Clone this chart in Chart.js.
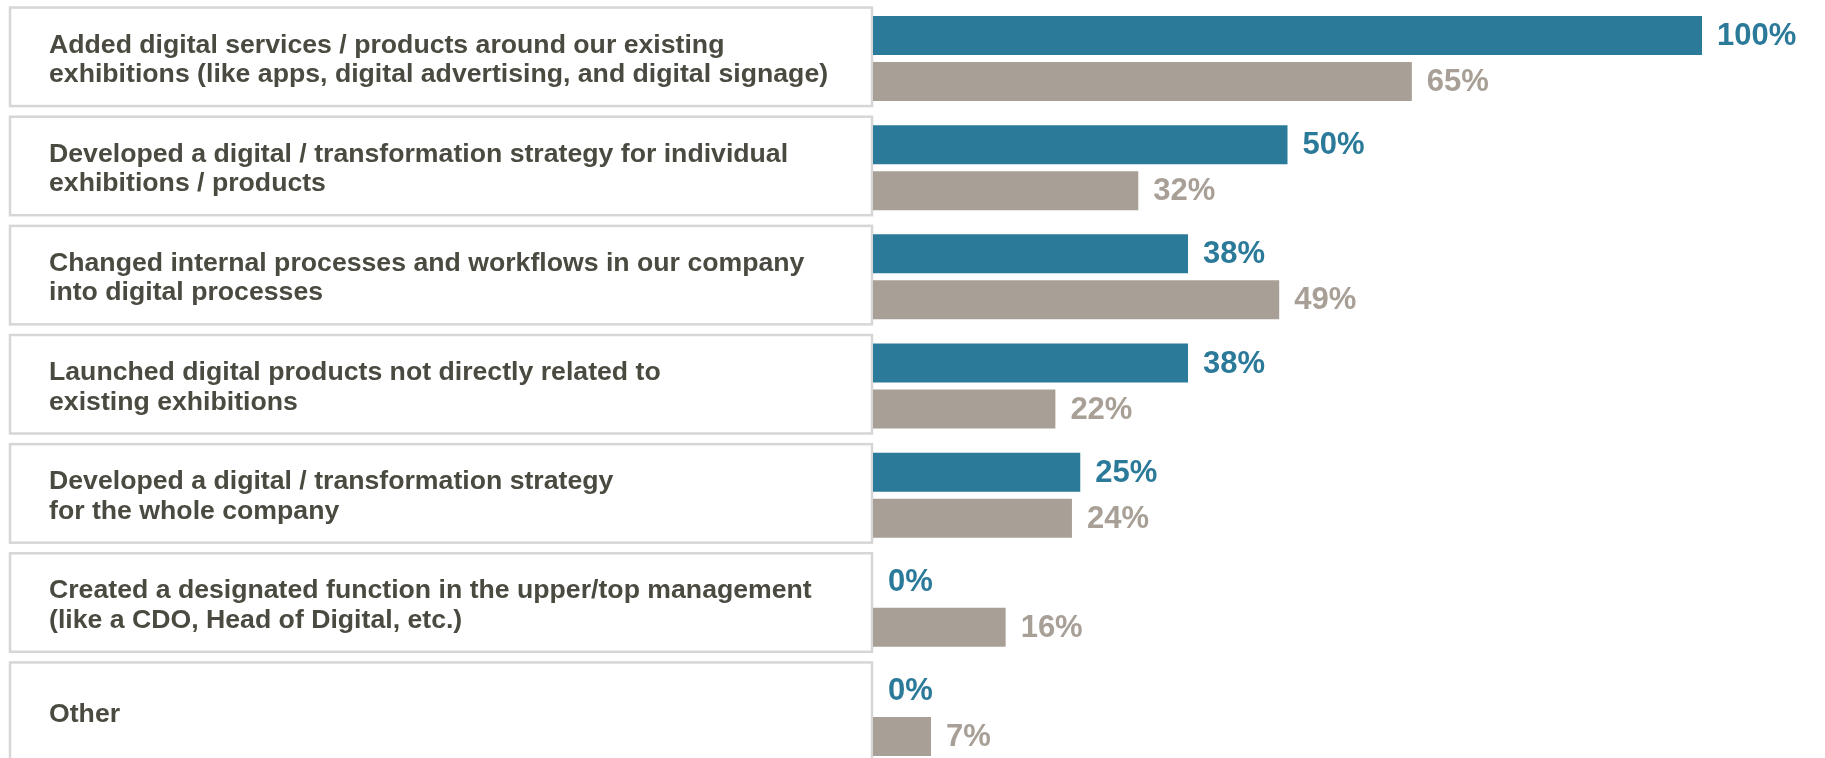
<!DOCTYPE html>
<html>
<head>
<meta charset="utf-8">
<title>Digital activities</title>
<script src="https://cdn.jsdelivr.net/npm/chart.js@4"></script>
<style>
    html, body { margin: 0; padding: 0; background: #fff; overflow: hidden; }
    #wrap { position: relative; width: 1825px; height: 770px; }
</style>
</head>
<body>
<div id="wrap"><canvas id="activityChart"></canvas></div>
<script>
// categories (multi-line labels)
const categories = [
    ['Added digital services / products around our existing', 'exhibitions (like apps, digital advertising, and digital signage)'],
    ['Developed a digital / transformation strategy for individual', 'exhibitions / products'],
    ['Changed internal processes and workflows in our company', 'into digital processes'],
    ['Launched digital products not directly related to', 'existing exhibitions'],
    ['Developed a digital / transformation strategy', 'for the whole company'],
    ['Created a designated function in the upper/top management', '(like a CDO, Head of Digital, etc.)'],
    'Other'
];
const blueValues = [100, 50, 38, 38, 25, 0, 0];
const greyValues = [65, 32, 49, 22, 24, 16, 7];

const BLUE = '#2b7a99';
const GREY = '#a8a096';
const TEXT = '#4b4a41';
const FONT = "'Liberation Sans', Arial, sans-serif";

// white boxes with grey frame behind each category label
const labelBoxes = {
    id: 'labelBoxes',
    beforeDraw(chart) {
        const { ctx, scales: { y }, chartArea } = chart;
        ctx.save();
        ctx.strokeStyle = '#d6d6d6';
        ctx.lineWidth = 2.5;
        ctx.fillStyle = '#fff';
        categories.forEach((c, i) => {
            const cy = y.getPixelForValue(i);
            const top = cy - 51;
            const h = 98.5;
            ctx.fillRect(10, top, chartArea.left - 1 - 10, h);
            ctx.strokeRect(10, top, chartArea.left - 1 - 10, h);
        });
        ctx.restore();
    }
};

// percentage labels at bar ends
const valueLabels = {
    id: 'valueLabels',
    afterDatasetsDraw(chart) {
        const { ctx } = chart;
        ctx.save();
        ctx.font = `bold 31px ${FONT}`;
        ctx.textAlign = 'left';
        ctx.textBaseline = 'middle';
        chart.data.datasets.forEach((ds, di) => {
            const meta = chart.getDatasetMeta(di);
            ctx.fillStyle = ds.backgroundColor;
            meta.data.forEach((bar, i) => {
                ctx.fillText(ds.data[i] + '%', bar.x + 15, bar.y + 1);
            });
        });
        ctx.restore();
    }
};

new Chart(document.getElementById('activityChart'), {
    type: 'bar',
    data: {
        labels: categories,
        datasets: [
            {
                label: 'Group A',
                data: blueValues,
                backgroundColor: BLUE,
                categoryPercentage: 0.843,
                barPercentage: 0.848
            },
            {
                label: 'Group B',
                data: greyValues,
                backgroundColor: GREY,
                categoryPercentage: 0.843,
                barPercentage: 0.848
            }
        ]
    },
    options: {
        indexAxis: 'y',
        responsive: true,
        maintainAspectRatio: false,
        animation: false,
        layout: {
            padding: { left: 49, right: 123, top: 4, bottom: 2 }
        },
        scales: {
            x: {
                display: false,
                min: 0,
                max: 100
            },
            y: {
                grid: { display: false },
                border: { display: false },
                afterFit: scale => {
                    scale.width = 824;
                    // no extra room above/below for the first/last label
                    scale.paddingTop = 0;
                    scale.paddingBottom = 0;
                },
                ticks: {
                    autoSkip: false,
                    crossAlign: 'far',
                    padding: 0,
                    labelOffset: 1.5,
                    color: TEXT,
                    font: { family: FONT, size: 26.67, weight: 'bold', lineHeight: 1.1 }
                }
            }
        },
        plugins: {
            legend: { display: false },
            tooltip: { enabled: false }
        }
    },
    plugins: [labelBoxes, valueLabels]
});
</script>
</body>
</html>
